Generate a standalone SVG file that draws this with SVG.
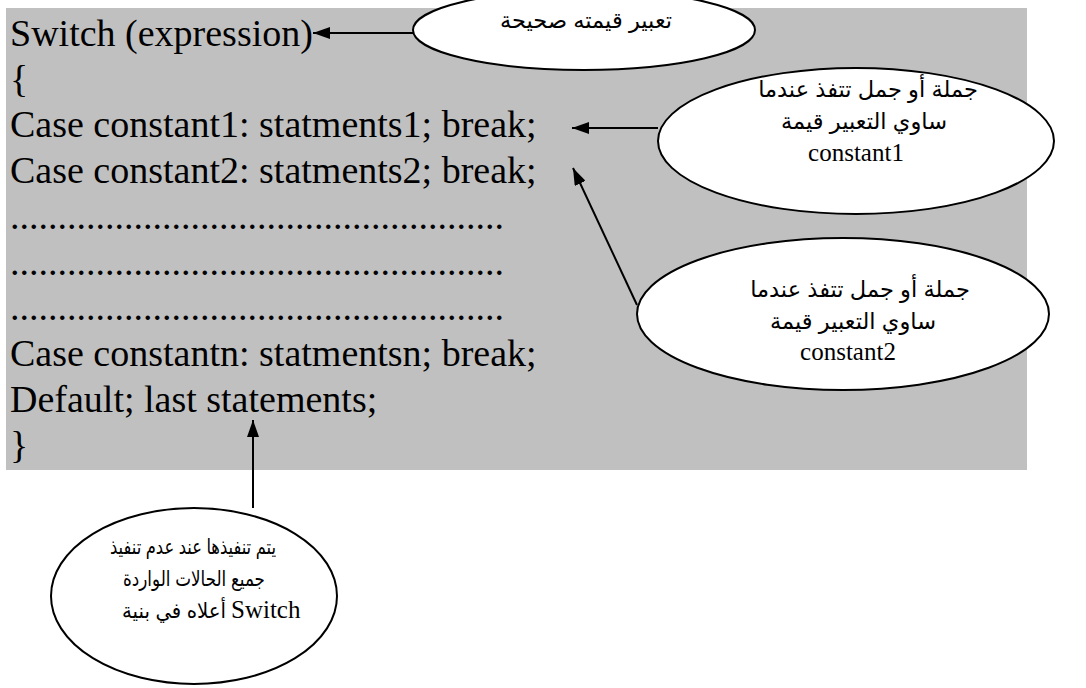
<svg xmlns="http://www.w3.org/2000/svg" width="1086" height="688" viewBox="0 0 1086 688">
<style>
.code{font-family:"Liberation Serif","Times New Roman",serif;font-size:38px;fill:#000}
.ar{font-family:"Liberation Sans","DejaVu Sans",sans-serif;font-size:22.5px;fill:#000;text-anchor:middle}
.ar4{font-family:"Liberation Sans","DejaVu Sans",sans-serif;font-size:21px;fill:#000}
.lat{font-family:"Liberation Serif","Times New Roman",serif;font-size:25px;fill:#000}
.mid{text-anchor:middle}
.bubble{fill:#fff;stroke:#000;stroke-width:2}
.conn{stroke:#000;stroke-width:2;fill:none;marker-end:url(#ah)}
</style>
<defs>
<marker id="ah" markerUnits="userSpaceOnUse" markerWidth="18" markerHeight="12" refX="17" refY="6" orient="auto">
<path d="M0,0 L17,6 L0,12 z" fill="#000"/>
</marker>
</defs>
<rect x="6" y="8" width="1021" height="462" fill="#c0c0c0"/>
<g id="code">
<text class="code" x="10" y="46">Switch (expression)</text>
<text class="code" x="10" y="92">{</text>
<text class="code" x="10" y="137">Case constant1: statments1; break;</text>
<text class="code" x="10" y="183">Case constant2: statments2; break;</text>
<text class="code" x="10" y="229">....................................................</text>
<text class="code" x="10" y="275">....................................................</text>
<text class="code" x="10" y="320">....................................................</text>
<text class="code" x="10" y="366">Case constantn: statmentsn; break;</text>
<text class="code" x="10" y="412">Default; last statements;</text>
<text class="code" x="10" y="458">}</text>
</g>
<g id="connectors">
<line class="conn" x1="413" y1="33" x2="313" y2="33"/>
<line class="conn" x1="658" y1="128" x2="572" y2="128"/>
<line class="conn" x1="637" y1="305" x2="573" y2="168"/>
<line class="conn" x1="253" y1="508" x2="253" y2="420"/>
</g>
<g id="note1">
<ellipse class="bubble" cx="584" cy="30" rx="171" ry="40"/>
<text class="ar" x="586" y="28" font-size="24">تعبير قيمته صحيحة</text>
</g>
<g id="note2">
<ellipse class="bubble" cx="856" cy="141" rx="198" ry="73"/>
<text class="ar" x="868" y="97">جملة أو جمل تتفذ عندما</text>
<text class="ar" x="864" y="129">ساوي التعبير قيمة</text>
<text class="lat mid" x="856" y="161">constant1</text>
</g>
<g id="note3">
<ellipse class="bubble" cx="843" cy="314" rx="206" ry="76"/>
<text class="ar" x="860" y="297">جملة أو جمل تتفذ عندما</text>
<text class="ar" x="853" y="329">ساوي التعبير قيمة</text>
<text class="lat mid" x="848" y="360">constant2</text>
</g>
<g id="note4">
<ellipse class="bubble" cx="194" cy="596" rx="143" ry="88"/>
<text class="ar4" x="193" y="554" text-anchor="middle" textLength="166" lengthAdjust="spacingAndGlyphs">يتم تنفيذها عند عدم تنفيذ</text>
<text class="ar4" x="194" y="586" text-anchor="middle" textLength="142" lengthAdjust="spacingAndGlyphs">جميع الحالات الواردة</text>
<text class="ar4" x="226" y="618" text-anchor="end" textLength="104" lengthAdjust="spacingAndGlyphs">أعلاه في بنية</text>
<text class="lat" x="231" y="618" font-size="22">Switch</text>
</g>
</svg>
